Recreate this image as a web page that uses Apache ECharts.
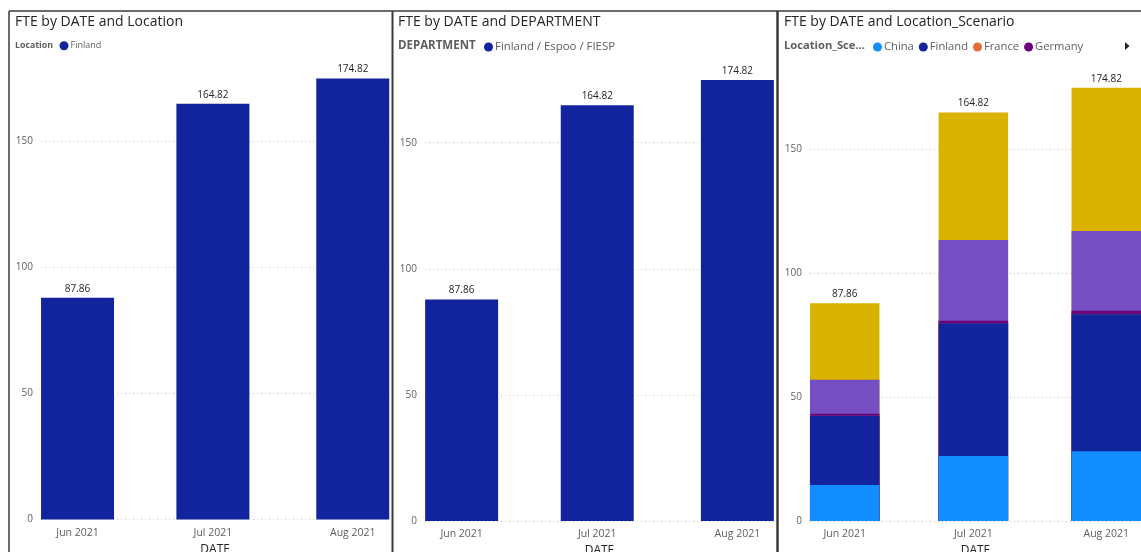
<!DOCTYPE html>
<html>
<head>
<meta charset="utf-8">
<script src="https://cdn.jsdelivr.net/npm/echarts@6/dist/echarts.min.js"></script>
<style>
html,body{margin:0;padding:0;background:#fff;}
#chart{width:1141px;height:552px;}
</style>
</head>
<body>
<div id="chart"></div>
<script>
// ---- data ----
const dates = ['2021-06-01', '2021-07-01', '2021-08-01'];
const monthLabels = ['Jun 2021', 'Jul 2021', 'Aug 2021'];
const fteByLocation = [87.86, 164.82, 174.82];
const fteByDepartment = [87.86, 164.82, 174.82];
const scnChina = [14.5, 26.2, 28.2];
const scnFinland = [28.0, 53.6, 55.2];
const scnFrance = [0, 0, 0];
const scnGermany = [0.8, 1.0, 1.5];
const scnPoland = [13.7, 32.6, 32.1];
const scnSweden = [30.86, 51.42, 57.82];
const yTicks = [0, 50, 100, 150];

const FONT = '"Segoe UI", "Open Sans", sans-serif';
// x positions: day number since epoch (continuous date axis)
const DAYMS = 86400000;
const xs = dates.map(d => { const p = d.split('-').map(Number); return Math.round(Date.UTC(p[0], p[1] - 1, p[2]) / DAYMS); });
const labelFor = v => { const i = xs.findIndex(t => Math.abs(t - v) < 0.5); return i >= 0 ? monthLabels[i] : ''; };
const pad = 8.1;

function xAx(gi) {
  return {
    type: 'value', gridIndex: gi, min: xs[0] - pad, max: xs[xs.length - 1] + pad, scale: true,
    axisLine: { show: false }, axisTick: { show: false }, splitLine: { show: false },
    axisLabel: { customValues: xs, formatter: labelFor, color: '#605E5C', fontSize: 10.5, fontFamily: FONT, margin: 8,
      showMinLabel: true, showMaxLabel: true },
    name: 'DATE', nameLocation: 'middle', nameGap: 19,
    nameTextStyle: { color: '#252423', fontSize: 12, fontFamily: FONT }
  };
}
function yAx(gi) {
  return {
    type: 'value', gridIndex: gi, min: yTicks[0], max: 180, interval: yTicks[1] - yTicks[0],
    axisLine: { show: false }, axisTick: { show: false },
    axisLabel: { color: '#605E5C', fontSize: 10, fontFamily: FONT, margin: 8, showMaxLabel: false },
    splitLine: { show: true, showMaxLine: false, lineStyle: { color: '#C8C6C4', type: [1, 3], width: 1 } }
  };
}
const pts = arr => xs.map((t, i) => [t, arr[i]]);
const valLabel = { show: true, position: 'top', distance: 4, color: '#252423', fontSize: 10, fontFamily: FONT,
  formatter: p => p.value[1].toFixed(2) };

// stacked segments, bottom to top
const stackSeries = [
  ['China', scnChina, '#118DFF'],
  ['Finland', scnFinland, '#12239E'],
  ['France', scnFrance, '#E66C37'],
  ['Germany', scnGermany, '#6B007B'],
  ['Poland', scnPoland, '#744EC2'],
  ['Sweden', scnSweden, '#D9B300']
];
// running totals (top of each segment); drawn top-first so lower segments cover upper bars
const cumulative = stackSeries.map((s, k) => xs.map((_, i) => stackSeries.slice(0, k + 1).reduce((a, x) => a + x[1][i], 0)));
const totals = cumulative[cumulative.length - 1];

const series = [
  { name: 'Finland', type: 'bar', xAxisIndex: 0, yAxisIndex: 0, data: pts(fteByLocation), barWidth: 73,
    itemStyle: { color: '#12239E' }, label: valLabel },
  { name: 'Finland / Espoo / FIESP', type: 'bar', xAxisIndex: 1, yAxisIndex: 1, data: pts(fteByDepartment), barWidth: 73,
    itemStyle: { color: '#12239E' }, label: valLabel }
];
for (let k = stackSeries.length - 1; k >= 0; k--) {
  const s = stackSeries[k];
  series.push({
    name: s[0], type: 'bar', xAxisIndex: 2, yAxisIndex: 2, barGap: '-100%',
    data: pts(cumulative[k]), barWidth: 69.5,
    itemStyle: { color: s[2] },
    label: k === stackSeries.length - 1 ? { show: true, position: 'top', distance: 4, color: '#252423', fontSize: 10, fontFamily: FONT,
      formatter: p => totals[p.dataIndex].toFixed(2) } : { show: false }
  });
}

const titleStyle = { fontSize: 14, fontWeight: 'normal', color: '#252423', fontFamily: FONT };
const legendBase = { orient: 'horizontal', icon: 'circle', itemWidth: 9, itemHeight: 9, selectedMode: false, padding: 0 };
const gridBase = { outerBoundsMode: 'none', containLabel: false };

const borderColor = '#3B3A39';
const option = {
  animation: false,
  backgroundColor: '#ffffff',
  title: [
    { text: 'FTE by DATE and Location', left: 15, top: 15, padding: 0, textStyle: titleStyle },
    { text: 'FTE by DATE and DEPARTMENT', left: 398, top: 15, padding: 0, textStyle: titleStyle },
    { text: 'FTE by DATE and Location_Scenario', left: 784, top: 15, padding: 0, textStyle: titleStyle }
  ],
  legend: [
    Object.assign({}, legendBase, { left: 59.5, top: 41.2, data: ['Finland'], itemGap: 6,
      textStyle: { fontSize: 9, color: '#605E5C', fontFamily: FONT, padding: [0, 0, 0, -3] } }),
    Object.assign({}, legendBase, { left: 484, top: 41.5, data: ['Finland / Espoo / FIESP'],
      textStyle: { fontSize: 11.4, color: '#605E5C', fontFamily: FONT, padding: [0, 0, 0, -3] } }),
    Object.assign({}, legendBase, { left: 873, top: 41.5, data: ['China', 'Finland', 'France', 'Germany'], itemGap: 5,
      textStyle: { fontSize: 11.2, color: '#605E5C', fontFamily: FONT, padding: [0, 0, 0, -3] } })
  ],
  grid: [
    Object.assign({ left: 41, top: 65.4, width: 348.3, height: 454.1 }, gridBase),
    Object.assign({ left: 425, top: 67, width: 349, height: 454 }, gridBase),
    Object.assign({ left: 810, top: 75, width: 331, height: 446 }, gridBase)
  ],
  xAxis: [xAx(0), xAx(1), xAx(2)],
  yAxis: [yAx(0), yAx(1), yAx(2)],
  series: series,
  graphic: [
    { type: 'line', shape: { x1: 9, y1: 11, x2: 1141, y2: 11 }, style: { stroke: borderColor, lineWidth: 1.5 } },
    { type: 'line', shape: { x1: 9, y1: 11, x2: 9, y2: 552 }, style: { stroke: borderColor, lineWidth: 1.5 } },
    { type: 'line', shape: { x1: 392.5, y1: 11, x2: 392.5, y2: 552 }, style: { stroke: borderColor, lineWidth: 2 } },
    { type: 'line', shape: { x1: 777.5, y1: 11, x2: 777.5, y2: 552 }, style: { stroke: borderColor, lineWidth: 2.5 } },
    { type: 'text', x: 15, y: 45.7, style: { text: 'Location', fill: '#605E5C', font: 'bold 8.8px ' + FONT, verticalAlign: 'middle' } },
    { type: 'text', x: 398, y: 46, style: { text: 'DEPARTMENT', fill: '#605E5C', font: 'bold 11.5px ' + FONT, verticalAlign: 'middle' } },
    { type: 'text', x: 784, y: 46, style: { text: 'Location_Sce...', fill: '#605E5C', font: 'bold 11.2px ' + FONT, verticalAlign: 'middle' } },
    { type: 'polygon', shape: { points: [[1125, 42], [1125, 50], [1129.5, 46]] }, style: { fill: '#252423' } }
  ]
};
const chart = echarts.init(document.getElementById('chart'), null, { renderer: 'canvas' });
chart.setOption(option);
</script>
</body>
</html>
